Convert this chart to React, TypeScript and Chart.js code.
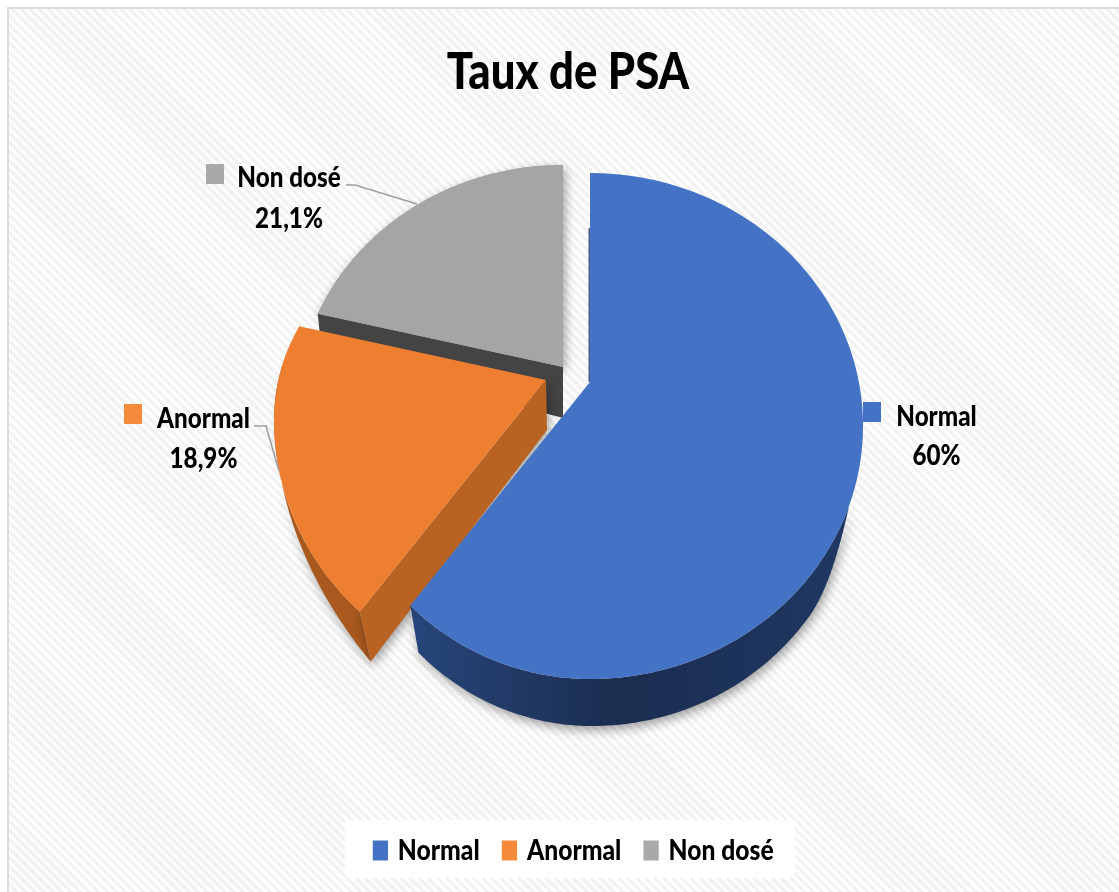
import React, { useEffect, useRef } from "react";
import { Chart, registerables } from "chart.js";

Chart.register(...registerables);

const categories = ["Normal", "Anormal", "Non dosé"];
const values = [60, 18.9, 21.1];
const valueLabels = ["60%", "18,9%", "21,1%"];
const faceColors = ["#4472c4", "#ef7f30", "#a5a5a5"];
const legendColors = ["#4472c4", "#f58a3a", "#a9a9a9"];

const faceGeometry = [
  { ax: 590, ay: 382, drop: 44, rxR: 273, rxL: 255, ry: 253, ryU: 253 },
  { ax: 546, ay: 380, drop: 40, rxR: 272, rxL: 272, ry: 263, ryU: 223 },
  { ax: 563, ay: 367, drop: 44, rxR: 267, rxL: 267, ry: 246, ryU: 246 },
];

// The tilt of the pie bends its angles slightly: [pie degrees, seen degrees]
const angleWarp = [
  [0, 0],
  [216, 218.8],
  [284.4, 282.6],
  [360, 360],
];

type G = (typeof faceGeometry)[number];

function warp(angle: number) {
  let deg = ((angle + Math.PI / 2) * 180) / Math.PI;
  for (let i = 1; i < angleWarp.length; i++) {
    const [a0, b0] = angleWarp[i - 1];
    const [a1, b1] = angleWarp[i];
    if (deg <= a1 + 1e-6) {
      deg = b0 + ((deg - a0) * (b1 - b0)) / (a1 - a0);
      break;
    }
  }
  return (deg * Math.PI) / 180 - Math.PI / 2;
}

function rayToEllipse(dx: number, dy: number, rx: number, ry: number, drop: number) {
  const a = (dx * dx) / (rx * rx) + (dy * dy) / (ry * ry);
  const b = (-2 * dy * drop) / (ry * ry);
  const c = (drop * drop) / (ry * ry) - 1;
  return (-b + Math.sqrt(b * b - 4 * a * c)) / (2 * a);
}

function rimPoint(g: G, angle: number) {
  const w = warp(angle);
  const dx = Math.cos(w);
  const dy = Math.sin(w);
  const rx = dx >= 0 ? g.rxR : g.rxL;
  let r = rayToEllipse(dx, dy, rx, g.ry, g.drop);
  if (dy * r < g.drop) r = rayToEllipse(dx, dy, rx, g.ryU, g.drop);
  return { x: g.ax + dx * r, y: g.ay + dy * r };
}

function rimPath(g: G, from: number, to: number, n = 120) {
  const pts: { x: number; y: number }[] = [];
  for (let i = 0; i <= n; i++) pts.push(rimPoint(g, from + ((to - from) * i) / n));
  return pts;
}

function poly(ctx: CanvasRenderingContext2D, pts: { x: number; y: number }[]) {
  ctx.beginPath();
  pts.forEach((p, i) => (i ? ctx.lineTo(p.x, p.y) : ctx.moveTo(p.x, p.y)));
  ctx.closePath();
}

function shadow(ctx: CanvasRenderingContext2D, on: boolean) {
  ctx.shadowColor = on ? "rgba(0,0,0,0.38)" : "transparent";
  ctx.shadowBlur = on ? 11 : 0;
  ctx.shadowOffsetX = on ? 2 : 0;
  ctx.shadowOffsetY = on ? 4 : 0;
}

// Narrows a layout box's text about its centre and moves it sideways.
function condense(chart: any, box: any, scale: number, shift: number) {
  const original = box.draw.bind(box);
  box.draw = (area: any) => {
    const ctx: CanvasRenderingContext2D = chart.ctx;
    const cx = chart.width / 2;
    ctx.save();
    ctx.translate(cx + shift, 0);
    ctx.scale(scale, 1);
    ctx.translate(-cx, 0);
    original(area);
    ctx.restore();
  };
}

const perspectivePie = {
  id: "perspectivePie",
  afterInit(chart: any) {
    condense(chart, chart.titleBlock, 0.84, 8.5);
    condense(chart, chart.legend, 0.85, 15);
  },
  beforeDraw(chart: any) {
    const ctx: CanvasRenderingContext2D = chart.ctx;
    ctx.save();
    ctx.fillStyle = "#ffffff";
    ctx.fillRect(345, chart.height - 72, 450, 58);
    ctx.restore();
  },
  beforeDatasetDraw(chart: any, args: any) {
    const ctx: CanvasRenderingContext2D = chart.ctx;
    const arcs = args.meta.data;
    const angles = arcs.map((a: any) => a.getProps(["startAngle", "endAngle"], true));
    ctx.save();

    // grey slice
    {
      const g = faceGeometry[2];
      const { startAngle: s, endAngle: e } = angles[2];
      const rim = rimPath(g, s, e);
      const apex = { x: g.ax, y: g.ay };
      shadow(ctx, true);
      ctx.fillStyle = faceColors[2];
      poly(ctx, [apex, ...rim]);
      ctx.fill();
      shadow(ctx, false);
      ctx.fillStyle = "#444444";
      poly(ctx, [apex, rim[0], { x: rim[0].x + 4, y: rim[0].y + 40 }, { x: g.ax, y: g.ay + 51 }]);
      ctx.fill();
      ctx.fillStyle = faceColors[2];
      poly(ctx, [apex, ...rim]);
      ctx.fill();
    }

    // orange slice
    {
      const g = faceGeometry[1];
      const { startAngle: s, endAngle: e } = angles[1];
      const rim = rimPath(g, s, e);
      const lower = rim.map((p, i) => {
        const t = 1 - i / rim.length;
        return { x: p.x + 11 * t * t, y: p.y + 50 * t * t };
      });
      shadow(ctx, true);
      ctx.fillStyle = "#a9591e";
      poly(ctx, [...rim, ...lower.slice().reverse()]);
      ctx.fill();
      ctx.fillStyle = "#b96323";
      poly(ctx, [{ x: g.ax, y: g.ay }, rim[0], lower[0], { x: g.ax + 1, y: g.ay + 50 }]);
      ctx.fill();
      shadow(ctx, false);
      ctx.fillStyle = faceColors[1];
      poly(ctx, [{ x: g.ax, y: g.ay }, ...rim]);
      ctx.fill();
    }

    // blue slice
    {
      const g = faceGeometry[0];
      const { startAngle: s, endAngle: e } = angles[0];
      const rim = rimPath(g, s, e, 240);
      const side = rim.filter((p) => p.y > 505);
      const lower = side.map((p) => {
        const k = Math.min(1, (p.y - 505) / 70);
        const dx = 8 - (14 * (p.x - 413)) / 407;
        return { x: p.x + dx * k, y: p.y + 47 * Math.sin((k * Math.PI) / 2) };
      });
      const grad = ctx.createLinearGradient(415, 0, 860, 0);
      grad.addColorStop(0, "#26457a");
      grad.addColorStop(0.45, "#1b2d50");
      grad.addColorStop(1, "#1f3864");
      shadow(ctx, true);
      ctx.fillStyle = grad;
      poly(ctx, [...side, ...lower.slice().reverse()]);
      ctx.fill();
      shadow(ctx, false);
      ctx.fillStyle = faceColors[0];
      poly(ctx, [{ x: g.ax, y: g.ay }, ...rim]);
      ctx.fill();
      ctx.strokeStyle = "#1f3864";
      ctx.lineWidth = 1.2;
      ctx.beginPath();
      ctx.moveTo(g.ax - 0.8, 228);
      ctx.lineTo(g.ax - 0.8, g.ay);
      ctx.stroke();
    }

    ctx.restore();
    return false;
  },
  afterDraw(chart: any) {
    const ctx: CanvasRenderingContext2D = chart.ctx;
    ctx.save();

    ctx.strokeStyle = "#9e9e9e";
    ctx.lineWidth = 1.6;
    ctx.beginPath();
    ctx.moveTo(346, 185);
    ctx.lineTo(355, 185);
    ctx.lineTo(417, 204);
    ctx.moveTo(254, 426);
    ctx.lineTo(266, 426);
    ctx.lineTo(279, 471);
    ctx.stroke();

    const spots = [
      { sq: [863, 402], x: 936.5, y1: 417, y2: 456 },
      { sq: [124, 404], x: 203.5, y1: 419, y2: 459 },
      { sq: [206, 164], x: 289, y1: 178, y2: 219 },
    ];
    ctx.font = "900 29px Lato, sans-serif";
    ctx.textAlign = "center";
    ctx.textBaseline = "middle";
    const narrow = (text: string, x: number, y: number) => {
      ctx.save();
      ctx.translate(x, y);
      ctx.scale(0.835, 1);
      ctx.fillText(text, 0, 0);
      ctx.restore();
    };
    spots.forEach((s, i) => {
      ctx.fillStyle = legendColors[i];
      ctx.fillRect(s.sq[0], s.sq[1], 18, 20);
      ctx.fillStyle = "#000000";
      narrow(categories[i], s.x, s.y1);
      narrow(valueLabels[i], s.x, s.y2);
    });
    ctx.restore();
  },
};

export default function App() {
  const ref = useRef<HTMLCanvasElement>(null);
  useEffect(() => {
    const chart = new Chart(ref.current!, {
      type: "pie",
      data: {
        labels: categories,
        datasets: [{ data: values, backgroundColor: faceColors, borderWidth: 0 }],
      },
      options: {
        animation: false,
        responsive: false,
        layout: { padding: { top: 41, bottom: 17 } },
        plugins: {
          tooltip: { enabled: false },
          title: {
            display: true,
            text: "Taux de PSA",
            color: "#000000",
            font: { family: "Lato, sans-serif", size: 52, weight: "900" },
            padding: { top: 0, bottom: 30 },
          },
          legend: {
            position: "bottom",
            labels: {
              color: "#000000",
              boxWidth: 12,
              boxHeight: 14,
              padding: 29,
              font: { family: "Lato, sans-serif", size: 29, weight: "900" },
              generateLabels: (c: any) =>
                (Chart.overrides as any).pie.plugins.legend.labels
                  .generateLabels(c)
                  .map((item: any, i: number) => ({
                    ...item,
                    fillStyle: legendColors[i],
                    strokeStyle: legendColors[i],
                    lineWidth: 6,
                  })),
            },
          },
        },
      },
      plugins: [perspectivePie],
    } as any);
    return () => chart.destroy();
  }, []);
  return (
    <div
      style={{
        position: "fixed",
        left: 0,
        top: 0,
        width: 1119,
        height: 892,
        overflow: "hidden",
        background: "#ffffff",
      }}
    >
      <div
        style={{
          position: "absolute",
          left: 7,
          top: 7,
          right: -10,
          bottom: -10,
          boxSizing: "border-box",
          border: "2.5px solid #dcdcdc",
          background: "repeating-linear-gradient(45deg, #ffffff 0 3.2px, #f2f2f2 3.2px 6.4px)",
        }}
      />
      <canvas ref={ref} width={1119} height={892} style={{ position: "absolute", left: 0, top: 0 }} />
    </div>
  );
}
